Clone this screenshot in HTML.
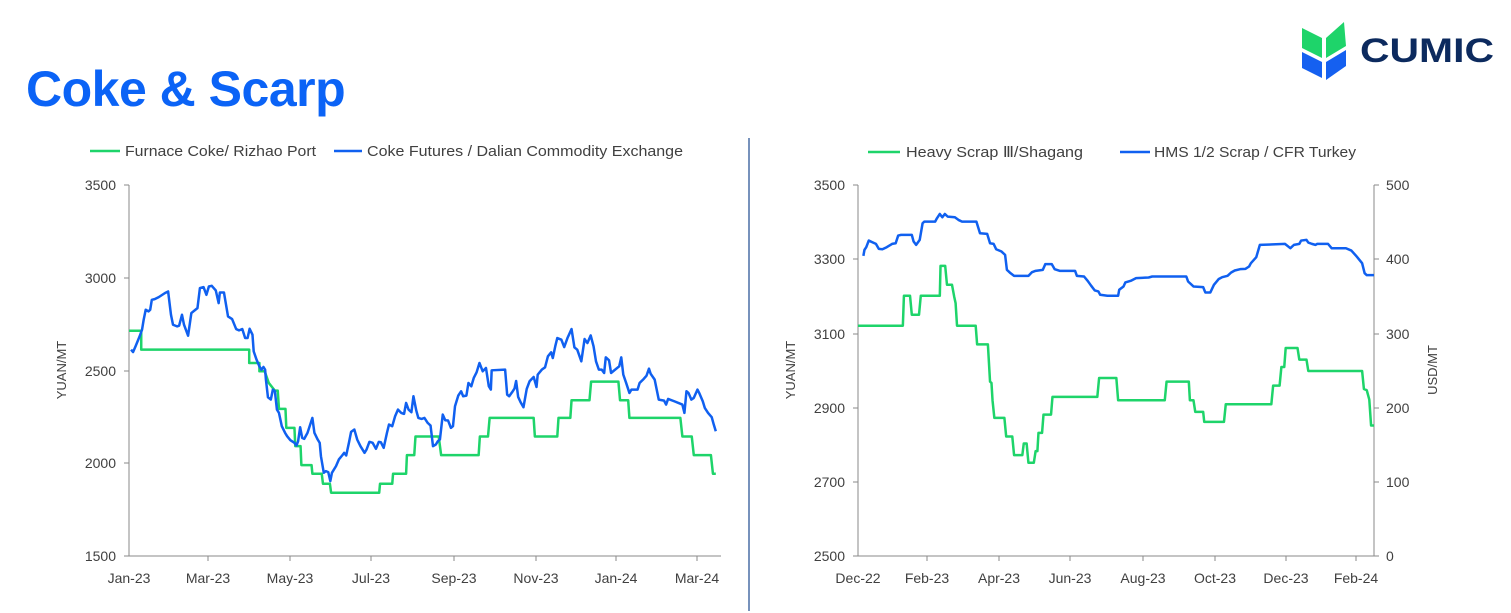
<!DOCTYPE html>
<html><head><meta charset="utf-8"><style>
html,body{margin:0;padding:0;background:#fff;width:1511px;height:613px;overflow:hidden;font-family:"Liberation Sans",sans-serif}
</style></head><body>
<svg width="1511" height="613" viewBox="0 0 1511 613" xmlns="http://www.w3.org/2000/svg" font-family="Liberation Sans, sans-serif">
<text x="26" y="106" font-size="50" font-weight="bold" fill="#0b63f6" letter-spacing="-0.5">Coke &amp; Scarp</text>
<!-- logo -->
<polygon points="1302,28 1322,38 1322,58 1302,48" fill="#1ed46a"/>
<polygon points="1326,38 1344,22 1346,46 1326,58" fill="#1ed46a"/>
<polygon points="1302,52 1322,62 1322,78 1302,68" fill="#1560f0"/>
<polygon points="1326,62 1346,50 1346,66 1326,80" fill="#1560f0"/>
<text x="1360" y="62" font-size="34" font-weight="bold" fill="#0c2a5e" textLength="134" lengthAdjust="spacingAndGlyphs">CUMIC</text>
<line x1="749" y1="138" x2="749" y2="611" stroke="#4a6fa5" stroke-width="1.5"/>
<g font-size="15" fill="#404040">
<line x1="90" y1="151" x2="120" y2="151" stroke="#1ed46a" stroke-width="2.5"/>
<text x="125" y="156" textLength="191" lengthAdjust="spacingAndGlyphs">Furnace Coke/ Rizhao Port</text>
<line x1="334" y1="151" x2="362" y2="151" stroke="#1060f0" stroke-width="2.5"/>
<text x="367" y="156" textLength="316" lengthAdjust="spacingAndGlyphs">Coke Futures / Dalian Commodity Exchange</text>
<line x1="868" y1="152" x2="900" y2="152" stroke="#1ed46a" stroke-width="2.5"/>
<text x="906" y="157" textLength="177" lengthAdjust="spacingAndGlyphs">Heavy Scrap Ⅲ/Shagang</text>
<line x1="1120" y1="152" x2="1150" y2="152" stroke="#1060f0" stroke-width="2.5"/>
<text x="1154" y="157" textLength="202" lengthAdjust="spacingAndGlyphs">HMS 1/2 Scrap / CFR Turkey</text>
</g>
<!-- left axes -->
<g stroke="#8a8a8a" stroke-width="1">
<line x1="129" y1="185" x2="129" y2="556"/><line x1="129" y1="556" x2="721" y2="556"/>
<line x1="124" y1="185" x2="129" y2="185"/><line x1="124" y1="278" x2="129" y2="278"/><line x1="124" y1="371" x2="129" y2="371"/><line x1="124" y1="463" x2="129" y2="463"/><line x1="124" y1="556" x2="129" y2="556"/>
<line x1="208" y1="556" x2="208" y2="561"/><line x1="290" y1="556" x2="290" y2="561"/><line x1="371" y1="556" x2="371" y2="561"/><line x1="454" y1="556" x2="454" y2="561"/><line x1="536" y1="556" x2="536" y2="561"/><line x1="616" y1="556" x2="616" y2="561"/><line x1="697" y1="556" x2="697" y2="561"/>
</g>
<g font-size="14" fill="#404040" text-anchor="end">
<text x="116" y="190">3500</text><text x="116" y="283">3000</text><text x="116" y="376">2500</text><text x="116" y="468">2000</text><text x="116" y="561">1500</text>
</g>
<g font-size="14" fill="#404040" text-anchor="middle">
<text x="129" y="583">Jan-23</text><text x="208" y="583">Mar-23</text><text x="290" y="583">May-23</text><text x="371" y="583">Jul-23</text><text x="454" y="583">Sep-23</text><text x="536" y="583">Nov-23</text><text x="616" y="583">Jan-24</text><text x="697" y="583">Mar-24</text>
</g>
<text transform="translate(66,370) rotate(-90)" font-size="13" fill="#404040" text-anchor="middle">YUAN/MT</text>
<g transform="translate(129,185) scale(0.4075,0.3327) translate(-72,-45)" fill="none" stroke-width="2.5" stroke-linejoin="round">
<polyline vector-effect="non-scaling-stroke" stroke="#1ed46a" points="72,483 102,483 102,540 367,540 367,580 392,580 392,605 405,605 415,640 430,663 437,663 440,718 456,718 458,775 478,775 480,830 493,830 495,887 520,887 522,913 545,913 548,943 565,943 568,970 686,970 688,943 718,943 720,913 752,913 754,857 772,857 775,801 832,801 838,857 930,857 933,801 953,801 957,745 1065,745 1068,801 1123,801 1126,745 1155,745 1158,692 1202,692 1206,636 1273,636 1277,692 1297,692 1300,745 1425,745 1430,801 1453,801 1458,857 1500,857 1505,913 1512,913"/>
<polyline vector-effect="non-scaling-stroke" stroke="#1060f0" points="77,540 82,547 88,530 98,500 104,480 108,450 113,420 120,425 124,420 128,390 135,388 145,382 160,370 168,365 175,435 180,465 190,470 195,468 202,435 207,465 217,498 225,430 235,420 240,415 246,355 255,352 262,375 268,350 275,348 285,362 292,400 295,368 305,368 315,440 325,448 335,478 342,482 350,478 357,505 363,505 368,477 375,495 378,545 385,570 392,590 397,600 402,592 406,600 408,630 413,683 420,690 425,660 430,665 435,720 440,730 447,770 455,790 460,800 468,812 478,820 483,828 487,815 492,773 497,805 502,808 510,790 522,745 527,790 535,810 540,820 543,860 550,910 555,905 561,908 566,935 570,910 580,890 587,870 595,858 600,850 605,858 612,818 617,787 625,780 632,810 640,830 650,850 655,840 662,817 670,820 678,838 685,817 690,818 697,835 705,790 710,765 718,770 725,740 732,720 740,730 747,733 752,700 758,720 765,728 770,680 777,723 782,745 790,748 797,745 805,760 812,768 818,830 825,825 830,815 835,810 842,735 848,752 855,753 862,775 867,770 872,710 880,678 887,665 892,680 900,678 905,640 912,650 918,625 925,608 932,580 940,605 948,595 955,650 960,660 962,602 995,600 1000,675 1005,680 1012,668 1018,657 1022,634 1027,682 1033,698 1040,713 1048,658 1055,635 1065,622 1072,652 1075,615 1085,600 1093,593 1100,560 1108,548 1112,565 1118,530 1123,505 1133,510 1140,532 1148,505 1158,478 1165,533 1172,540 1182,575 1190,508 1197,520 1205,497 1212,530 1218,575 1225,600 1232,600 1238,610 1242,563 1250,572 1255,610 1262,603 1275,590 1280,563 1285,615 1292,640 1300,670 1305,660 1320,660 1325,640 1335,628 1342,618 1348,597 1352,612 1362,630 1367,660 1372,690 1385,693 1390,705 1395,688 1410,695 1430,705 1435,730 1440,665 1445,670 1452,690 1458,685 1467,660 1472,672 1480,695 1485,715 1493,730 1502,743 1507,765 1512,785"/>
</g>
<!-- right axes -->
<g stroke="#8a8a8a" stroke-width="1">
<line x1="858" y1="185" x2="858" y2="556"/><line x1="858" y1="556" x2="1374" y2="556"/><line x1="1374" y1="185" x2="1374" y2="556"/>
<line x1="853" y1="185" x2="858" y2="185"/><line x1="853" y1="259" x2="858" y2="259"/><line x1="853" y1="334" x2="858" y2="334"/><line x1="853" y1="408" x2="858" y2="408"/><line x1="853" y1="482" x2="858" y2="482"/><line x1="853" y1="556" x2="858" y2="556"/>
<line x1="1374" y1="185" x2="1379" y2="185"/><line x1="1374" y1="259" x2="1379" y2="259"/><line x1="1374" y1="334" x2="1379" y2="334"/><line x1="1374" y1="408" x2="1379" y2="408"/><line x1="1374" y1="482" x2="1379" y2="482"/><line x1="1374" y1="556" x2="1379" y2="556"/>
<line x1="927" y1="556" x2="927" y2="561"/><line x1="999" y1="556" x2="999" y2="561"/><line x1="1070" y1="556" x2="1070" y2="561"/><line x1="1143" y1="556" x2="1143" y2="561"/><line x1="1215" y1="556" x2="1215" y2="561"/><line x1="1286" y1="556" x2="1286" y2="561"/><line x1="1356" y1="556" x2="1356" y2="561"/>
</g>
<g font-size="14" fill="#404040" text-anchor="end">
<text x="845" y="190">3500</text><text x="845" y="264">3300</text><text x="845" y="339">3100</text><text x="845" y="413">2900</text><text x="845" y="487">2700</text><text x="845" y="561">2500</text>
</g>
<g font-size="14" fill="#404040">
<text x="1386" y="190">500</text><text x="1386" y="264">400</text><text x="1386" y="339">300</text><text x="1386" y="413">200</text><text x="1386" y="487">100</text><text x="1386" y="561">0</text>
</g>
<g font-size="14" fill="#404040" text-anchor="middle">
<text x="858" y="583">Dec-22</text><text x="927" y="583">Feb-23</text><text x="999" y="583">Apr-23</text><text x="1070" y="583">Jun-23</text><text x="1143" y="583">Aug-23</text><text x="1215" y="583">Oct-23</text><text x="1286" y="583">Dec-23</text><text x="1356" y="583">Feb-24</text>
</g>
<text transform="translate(795,370) rotate(-90)" font-size="13" fill="#404040" text-anchor="middle">YUAN/MT</text>
<text transform="translate(1437,370) rotate(-90)" font-size="13" fill="#404040" text-anchor="middle">USD/MT</text>
<g transform="translate(858,185) scale(0.3588,0.3327) translate(-50,-45)" fill="none" stroke-width="2.5" stroke-linejoin="round">
<polyline vector-effect="non-scaling-stroke" stroke="#1ed46a" points="50,468 175,468 178,378 195,378 200,435 220,435 225,378 278,378 280,288 293,288 298,345 312,345 318,380 322,400 326,468 378,468 382,524 412,524 418,636 422,640 425,693 430,745 458,745 463,801 480,801 485,857 508,857 512,822 520,822 525,880 540,880 545,845 550,845 553,790 563,790 567,735 588,735 592,682 717,682 722,625 770,625 775,692 905,692 910,636 972,636 975,692 985,692 990,727 1012,727 1015,757 1070,757 1075,704 1202,704 1207,648 1225,648 1230,592 1238,592 1242,535 1275,535 1280,570 1300,570 1305,604 1455,604 1460,658 1468,662 1475,690 1480,768 1488,768"/>
<polyline vector-effect="non-scaling-stroke" stroke="#1060f0" points="65,258 68,240 73,232 80,212 90,217 100,222 108,237 118,238 130,232 145,222 155,220 162,197 170,195 200,195 205,215 212,225 222,210 230,160 235,155 265,155 270,145 278,132 285,142 292,132 300,140 320,142 330,150 340,155 380,155 390,190 410,192 418,220 428,222 435,238 450,245 460,255 465,300 475,310 485,318 525,318 535,307 545,303 565,300 572,283 590,283 598,298 612,303 655,303 660,318 680,320 690,333 700,348 710,362 720,365 725,375 745,378 775,378 778,360 790,350 795,338 810,333 825,325 860,323 870,320 965,320 970,335 985,350 1012,352 1018,368 1032,368 1042,345 1055,328 1065,322 1080,318 1090,308 1100,302 1115,298 1130,297 1140,290 1145,280 1160,262 1170,225 1240,222 1255,235 1265,225 1280,222 1285,212 1300,210 1305,218 1315,222 1325,225 1330,222 1360,222 1370,235 1410,235 1425,242 1440,260 1455,280 1462,310 1468,316 1488,316"/>
</g>
</svg>
</body></html>
